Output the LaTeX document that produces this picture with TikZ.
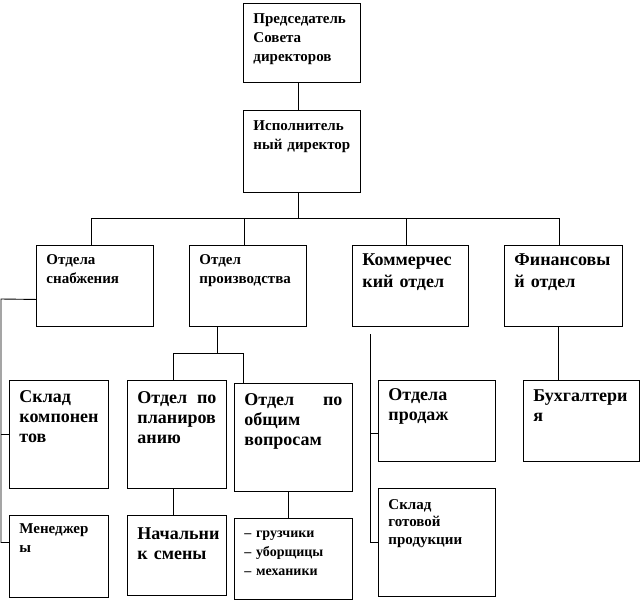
\documentclass[tikz,border=0pt]{standalone}
\usepackage{fontspec}
\setmainfont{Liberation Serif}

\begin{document}
\begin{tikzpicture}[x=1pt,y=-1pt,line width=0.9pt,
    smallbox/.style={font=\fontsize{15}{19}\selectfont\bfseries},
    bigbox/.style={font=\fontsize{18}{20}\selectfont\bfseries}]

      \useasboundingbox (0,0) rectangle (642,603);

      \begin{scope}[every node/.style={draw,anchor=north west,inner xsep=10pt,inner ysep=0pt,align=left,text height=20pt}]
        \node[smallbox,text width=97pt,text depth=59pt] (pred) at (243,3) {Председатель\\Совета\\директоров};
        \node[smallbox,text width=97pt,text depth=62pt] (isp) at (243,110) {Исполнитель\\ный директор};

        \node[smallbox,text width=97pt,text height=19pt,text depth=62pt] (snab) at (36,245) {Отдела\\снабжения};
        \node[smallbox,text width=97pt,text height=19pt,text depth=62pt] (proizv) at (189,245) {Отдел\\производства};
        \node[bigbox,font=\fontsize{18}{22.5}\selectfont\bfseries,text width=96pt,text depth=61pt] (komm) at (352,245) {Коммерчес\\кий отдел};
        \node[bigbox,font=\fontsize{18}{22.5}\selectfont\bfseries,text width=98pt,text depth=61pt] (fin) at (504,245) {Финансовы\\й отдел};

        \node[bigbox,text width=79pt,text height=22pt,text depth=86pt] (sklkomp) at (9,380) {Склад\\компонен\\тов};
        \node[bigbox,text width=79pt,text height=23pt,text depth=85pt] (plan) at (127,380) {Отдел\hfill по\\планиров\\анию};
        \node[bigbox,text width=98pt,text height=22pt,text depth=86pt] (obsh) at (234,383) {Отдел\hfill по\\общим\\вопросам};
        \node[bigbox,text width=97pt,text depth=61pt] (prod) at (378,380) {Отдела\\продаж};
        \node[bigbox,text width=96pt,text height=21pt,text depth=60pt] (buh) at (523,380) {Бухгалтери\\я};

        \node[smallbox,text width=79pt,text height=18pt,text depth=64pt] (men) at (9,515) {Менеджер\\ы};
        \node[bigbox,text width=79pt,text height=24pt,text depth=56pt] (nach) at (127,515) {Начальни\\к смены};
        \node[smallbox,font=\fontsize{14}{19}\selectfont\bfseries,text width=98pt,text height=19pt,text depth=62pt] (gruz) at (234,518) {– грузчики\\– уборщицы\\– механики};
        \node[smallbox,font=\fontsize{15}{17.5}\selectfont\bfseries,text width=97pt,text height=21pt,text depth=87pt] (sklgot) at (378,488) {Склад\\готовой\\продукции};
      \end{scope}

      % top of the chart
      \draw ([xshift=-4pt]pred.south) -- ([xshift=-4pt]isp.north);
      \draw ([xshift=-4pt]isp.south) -- ++(0,26) coordinate (bus);
      \draw ([xshift=-4pt]snab.north) |- (bus) -| ([xshift=-4pt]fin.north);
      \draw ([xshift=-4pt]proizv.north) -- ++(0,-27);
      \draw ([xshift=-4pt]komm.north) -- ++(0,-27);

      % supply
      \coordinate (lrail) at (1,299);
      \draw ([yshift=-13.5pt]snab.west) -- (lrail) |- ([yshift=14pt]men.west);
      \draw (sklkomp.west) -- (sklkomp.west -| lrail);

      % production
      \draw ([xshift=28pt]proizv.south west) -- ++(0,27) coordinate (pbus);
      \draw ([xshift=-4pt]plan.north) |- (pbus) -| ([xshift=9pt]obsh.north west);
      \draw ([xshift=-4pt]plan.south) -- ([xshift=-4pt]nach.north);
      \draw ([xshift=-5pt]obsh.south) -- ([xshift=-5pt]gruz.north);

      % sales
      \coordinate (krail) at (370,334);
      \draw (krail) |- (sklgot.west);
      \draw ([yshift=-12.5pt]prod.west) -- ([yshift=-12.5pt]prod.west -| krail);

      % finance
      \draw ([xshift=-5pt]fin.south) -- ([xshift=-5pt]fin.south |- buh.north);

    \end{tikzpicture}
\end{document}
